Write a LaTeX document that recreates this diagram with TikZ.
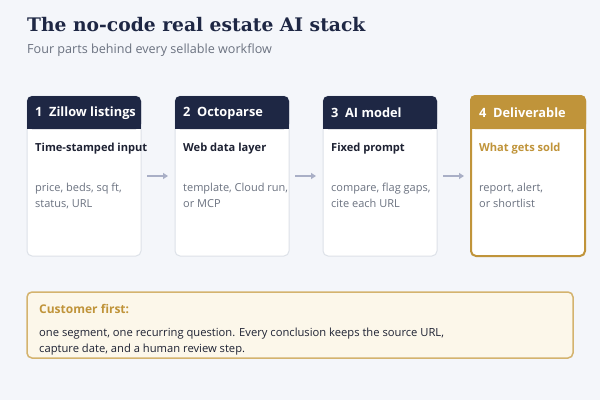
\documentclass[tikz,border=0pt]{standalone}
\usepackage{fontspec}
\setmainfont{Open Sans}
\newfontfamily\titlefont{DejaVu Serif}
\usetikzlibrary{arrows.meta}
\definecolor{bg}{HTML}{F4F6FA}
\definecolor{navy}{HTML}{1E2744}
\definecolor{gold}{HTML}{C0943A}
\definecolor{goldln}{HTML}{D4B36E}
\definecolor{cream}{HTML}{FCF7EA}
\definecolor{graytxt}{HTML}{6B7280}
\definecolor{cardln}{HTML}{DDE1E8}
\definecolor{arrowc}{HTML}{A9AFC6}
\definecolor{dark}{HTML}{1E2233}
\tikzset{
  card/.style={draw=cardln, line width=1pt, fill=white, rounded corners=5pt},
  goldcard/.style={draw=gold, line width=2pt, fill=white, rounded corners=5pt},
  hdr/.style={anchor=west, text=white, font=\fontsize{12.8}{14}\selectfont\bfseries, inner sep=0pt},
  sub/.style={anchor=west, text=dark, font=\fontsize{11.1}{14}\selectfont\bfseries, inner sep=0pt},
  body/.style={anchor=north west, text=graytxt, font=\fontsize{11}{16}\selectfont, inner sep=0pt, align=left},
  flow/.style={draw=arrowc, line width=1.5pt, -{Triangle[length=5pt,width=6pt]}}
}
\begin{document}
\begin{tikzpicture}[x=1pt,y=-1pt]
\fill[bg] (0,0) rectangle (600,400);
\useasboundingbox (0,0) rectangle (600,400);
\node[anchor=base west, inner sep=0pt, text=navy, font=\titlefont\fontsize{18.7}{24}\selectfont\bfseries] (title) at (27,31) {The no-code real estate AI stack};
\node[anchor=base west, inner sep=0pt, text=graytxt, font=\fontsize{12.6}{15}\selectfont] (subtitle) at (27,53) {Four parts behind every sellable workflow};
% cards
\foreach \i/\x/\h/\s/\ba/\bb in {1/27/{1\ \ Zillow listings}/{Time-stamped input}/{price, beds, sq ft,}/{status, URL},
  2/175/{2\ \ Octoparse}/{Web data layer}/{template, Cloud run,}/{or MCP},
  3/323/{3\ \ AI model}/{Fixed prompt}/{compare, flag gaps,}/{cite each URL}}{
  \draw[card] (\x,96) rectangle ++(114,160);
  \fill[navy, rounded corners=5pt] (\x,96) rectangle ++(114,33);
  \fill[navy] (\x,118) rectangle ++(114,11);
  \node[hdr] (h\i) at (\x+8,113) {\h};
  \node[sub] (s\i) at (\x+8,149) {\s};
  \node[body] (b\i) at (\x+8,183) {\ba\\\bb};
}
\draw[goldcard] (471,96) rectangle ++(114,160);
\fill[gold, rounded corners=5pt] (470,95) rectangle ++(116,34);
\fill[gold] (470,118) rectangle ++(116,11);
\node[hdr] (h4) at (479,113) {4\ \ Deliverable};
\node[sub, text=gold] (s4) at (479,149) {What gets sold};
\node[body] (b4) at (479,183) {report, alert,\\or shortlist};
% arrows
\coordinate (a1) at (147,176); \coordinate (a1e) at (168,176);
\coordinate (a2) at (295,176); \coordinate (a2e) at (316,176);
\coordinate (a3) at (443,176); \coordinate (a3e) at (464,176);
\draw[flow] (a1) -- (a1e);
\draw[flow] (a2) -- (a2e);
\draw[flow] (a3) -- (a3e);
% bottom note
\draw[draw=goldln, line width=1.5pt, fill=cream, rounded corners=5pt] (27,292) rectangle (573,358);
\node[anchor=west, inner sep=0pt, text=gold, font=\fontsize{12}{14}\selectfont\bfseries] (cf) at (39,309) {Customer first:};
\node[anchor=north west, inner sep=0pt, text=dark, align=left, font=\fontsize{11.2}{16}\selectfont] (cft) at (39,328) {one segment, one recurring question. Every conclusion keeps the source URL,\\capture date, and a human review step.};
\end{tikzpicture}
\end{document}
